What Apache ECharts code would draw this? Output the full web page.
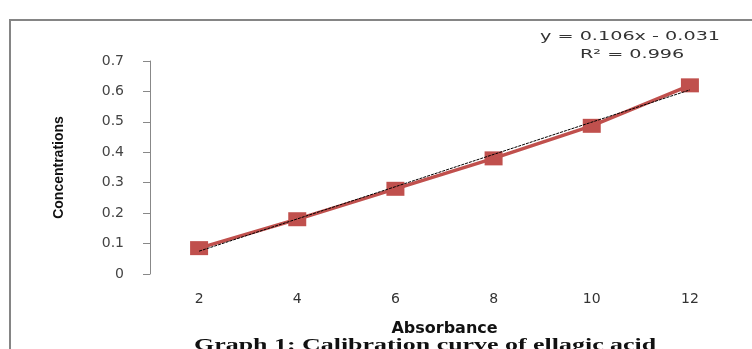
<!DOCTYPE html>
<html><head><meta charset="utf-8">
<script src="https://cdn.jsdelivr.net/npm/echarts@6/dist/echarts.min.js"></script>
<style>html,body{margin:0;padding:0;background:#fff}#c{width:752px;height:349px}</style>
</head><body><div id="c"></div>
<script>
const categories = ['2','4','6','8','10','12'];
const concentrations = [0.085, 0.18, 0.28, 0.38, 0.487, 0.62];
const trendEnds = [0.075, null, null, null, null, 0.605];
const yTicks = [0, 0.1, 0.2, 0.3, 0.4, 0.5, 0.6, 0.7];
const equationText = 'y = 0.106x - 0.031';
const r2Text = 'R² = 0.996';
const titleText = 'Graph 1: Calibration curve of ellagic acid';

const chart = echarts.init(document.getElementById('c'));
chart.setOption({
  animation: false,
  backgroundColor: '#fff',
  graphic: [
    {type: 'rect', shape: {x: 10, y: 20, width: 800, height: 400}, style: {fill: 'none', stroke: '#858585', lineWidth: 2}, silent: true},
    {type: 'text', x: 540, y: 31, scaleX: 1.6, style: {text: equationText, fontFamily: 'DejaVu Sans', fontSize: 12, fill: '#333'}},
    {type: 'text', x: 580, y: 49, scaleX: 1.6, style: {text: r2Text, fontFamily: 'DejaVu Sans', fontSize: 12, fill: '#333'}},
    {type: 'text', x: 194, y: 338, scaleX: 1.62, style: {text: titleText, fontFamily: 'Liberation Serif', fontWeight: 'bold', fontSize: 16, fill: '#111'}}
  ],
  grid: {left: 150, right: 13, top: 61, bottom: 75},
  xAxis: {
    type: 'category', data: categories, boundaryGap: true,
    axisLine: {show: false}, axisTick: {show: false},
    axisLabel: {margin: 18, fontFamily: 'DejaVu Sans', fontSize: 14, color: '#333'},
    name: 'Absorbance', nameLocation: 'middle', nameGap: 47,
    nameTextStyle: {fontFamily: 'DejaVu Sans', fontWeight: 'bold', fontSize: 16, color: '#111'}
  },
  yAxis: {
    type: 'value', min: 0, max: 0.7, interval: 0.1,
    splitLine: {show: false},
    axisLine: {show: true, lineStyle: {color: '#888', width: 1}},
    axisTick: {show: true, inside: false, length: 7, lineStyle: {color: '#888'}},
    axisLabel: {margin: 26, fontFamily: 'DejaVu Sans', fontSize: 14, color: '#444',
      formatter: v => { const t = yTicks.find(x => Math.abs(x - v) < 1e-9); return t === 0 ? '0' : (t !== undefined ? t.toFixed(1) : ''); }},
    name: 'Concentrations', nameLocation: 'middle', nameGap: 84, nameRotate: 90,
    nameTextStyle: {fontFamily: 'Liberation Sans Narrow, Liberation Sans', fontWeight: 'bold', fontSize: 14, color: '#111'}
  },
  series: [
    {type: 'line', data: concentrations, symbol: 'rect', symbolSize: [18, 14],
      lineStyle: {color: '#c0504d', width: 3.5}, itemStyle: {color: '#c0504d'}, z: 2},
    {type: 'line', data: trendEnds, connectNulls: true, symbol: 'none',
      lineStyle: {color: '#000', width: 1, type: [3, 1]}, z: 3}
  ]
});
</script></body></html>
